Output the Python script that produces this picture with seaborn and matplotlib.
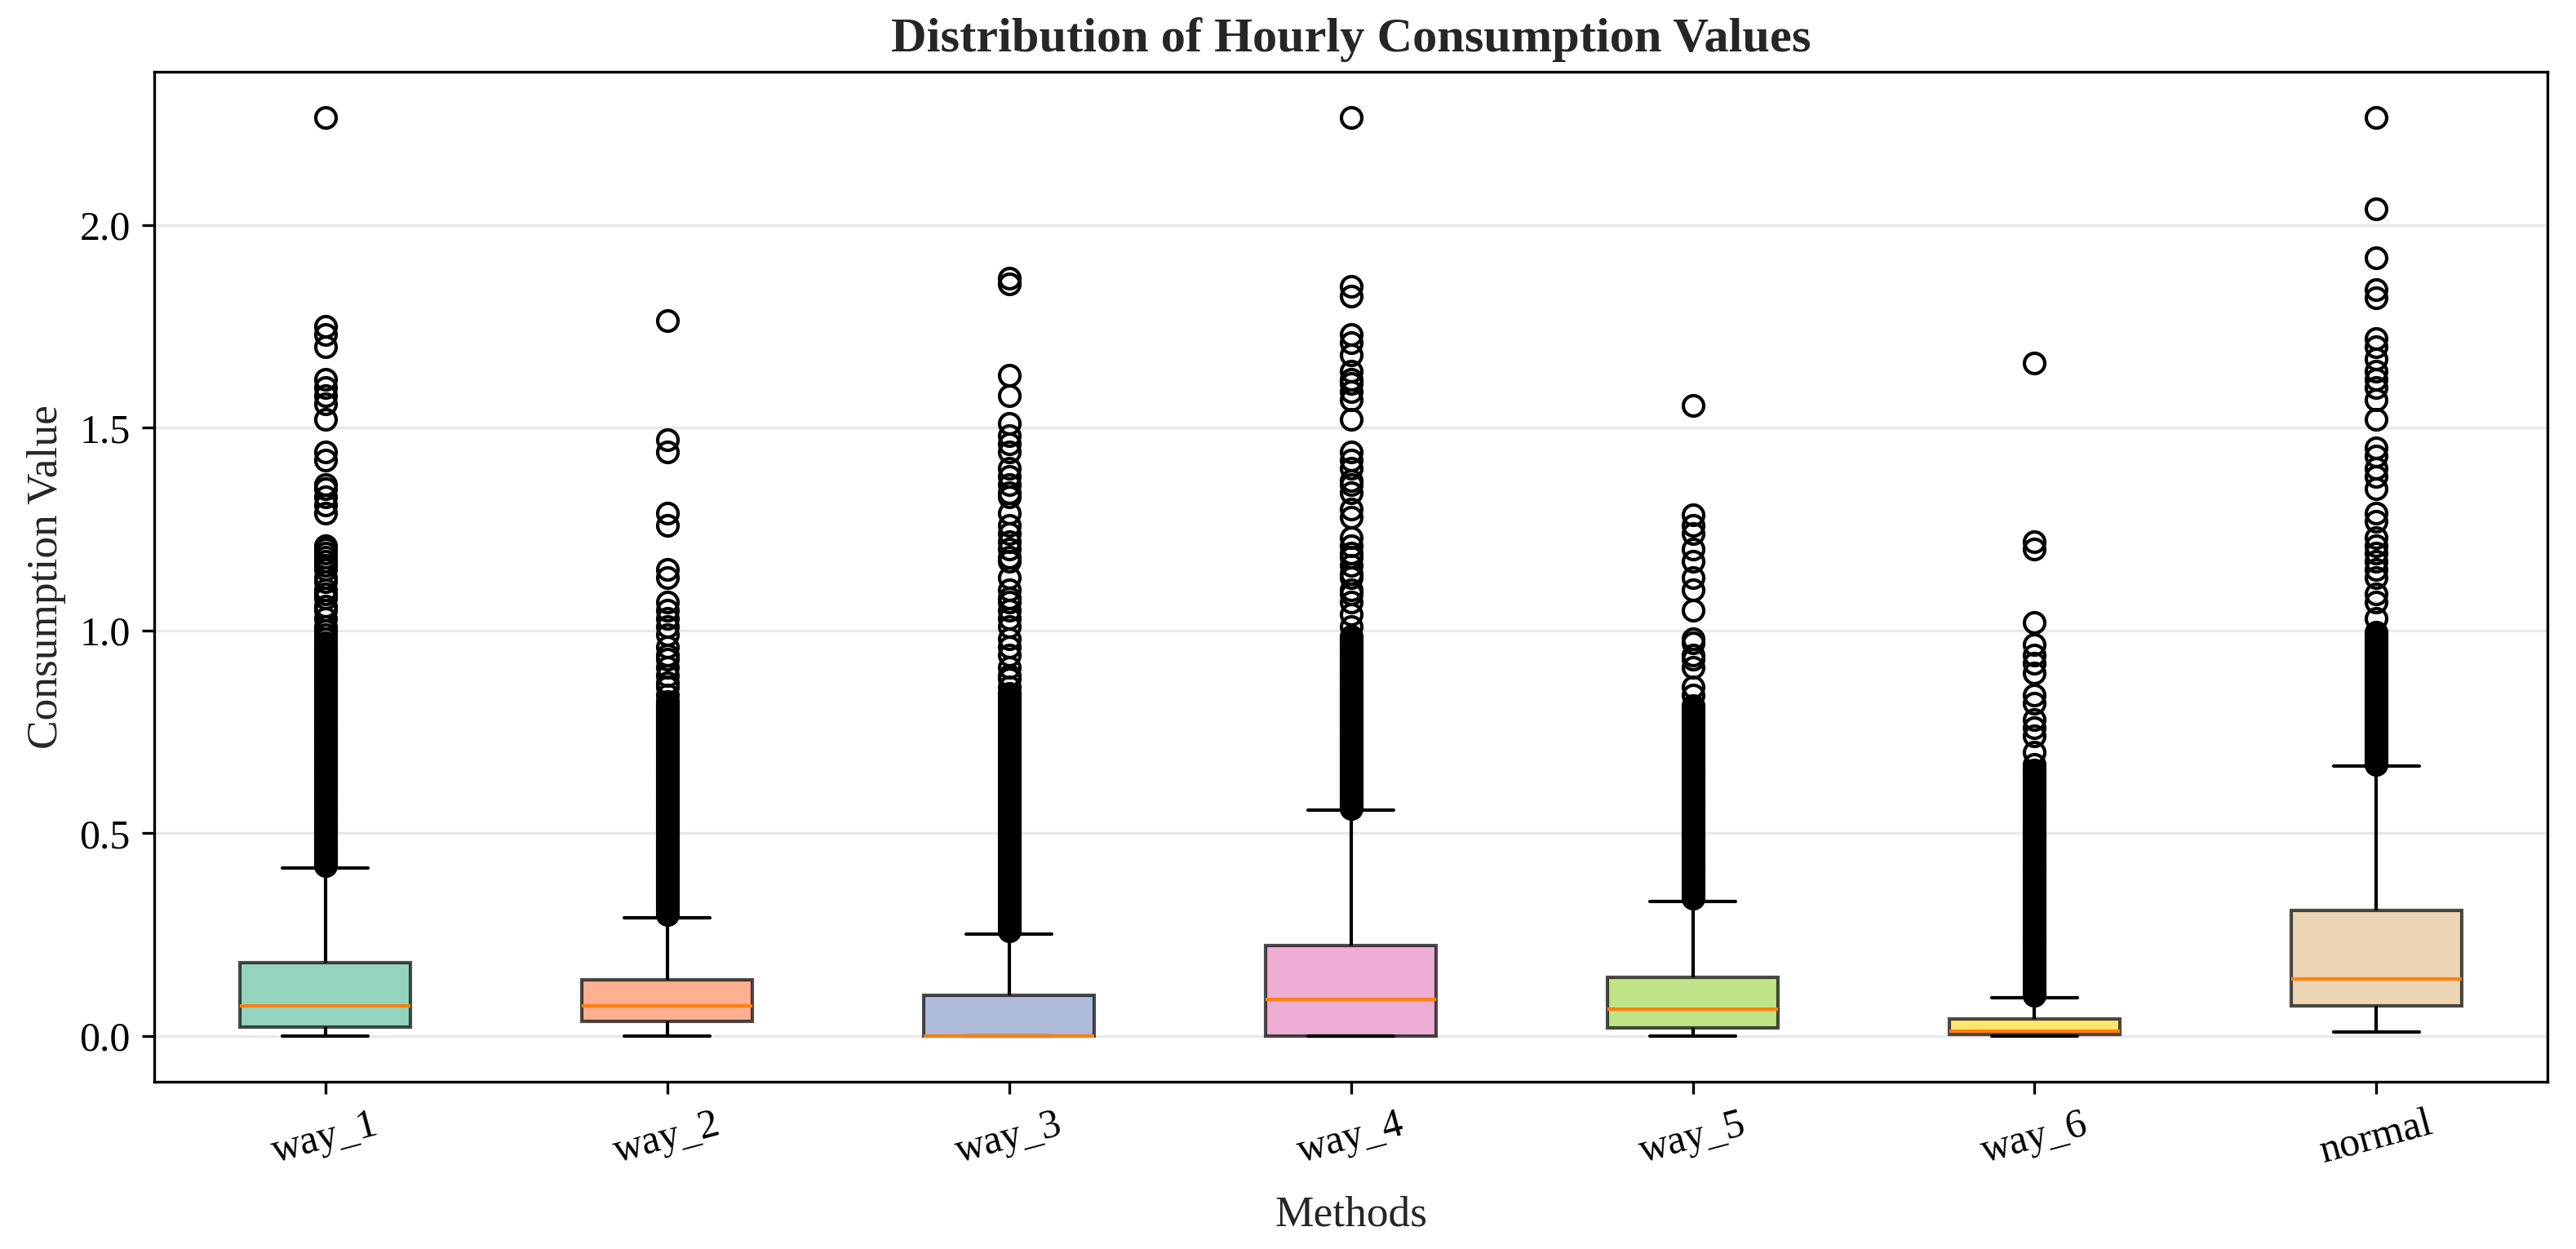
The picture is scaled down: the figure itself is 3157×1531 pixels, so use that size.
import pandas as pd
import seaborn as sns
import matplotlib.pyplot as plt

methods = ['way_1', 'way_2', 'way_3', 'way_4', 'way_5', 'way_6', 'normal']

# box statistics
whis_low = [0.0, 0.0, 0.0, 0.0, 0.0, 0.0, 0.010]
q1 = [0.021, 0.036, 0.0, 0.0, 0.019, 0.003, 0.073]
median = [0.073, 0.073, 0.0, 0.091, 0.065, 0.012, 0.140]
q3 = [0.180, 0.139, 0.101, 0.223, 0.144, 0.041, 0.310]
whis_high = [0.415, 0.292, 0.252, 0.556, 0.331, 0.095, 0.665]

# outliers: solid black bands just above the whiskers (read every 0.005),
# then the separate circles above them
way_1_band = [0.42, 0.425, 0.43, 0.435, 0.44, 0.445, 0.45, 0.455, 0.46, 0.465,
              0.47, 0.475, 0.48, 0.485, 0.49, 0.495, 0.50, 0.505, 0.51, 0.515,
              0.52, 0.525, 0.53, 0.535, 0.54, 0.545, 0.55, 0.555, 0.56, 0.565,
              0.57, 0.575, 0.58, 0.585, 0.59, 0.595, 0.60, 0.605, 0.61, 0.615,
              0.62, 0.625, 0.63, 0.635, 0.64, 0.645, 0.65, 0.655, 0.66, 0.665,
              0.67, 0.675, 0.68, 0.685, 0.69, 0.695, 0.70, 0.705, 0.71, 0.715,
              0.72, 0.725, 0.73, 0.735, 0.74, 0.745, 0.75, 0.755, 0.76, 0.765,
              0.77, 0.775, 0.78, 0.785, 0.79, 0.795, 0.80, 0.805, 0.81, 0.815,
              0.82, 0.825, 0.83, 0.835, 0.84, 0.845, 0.85, 0.855, 0.86, 0.865,
              0.87, 0.875, 0.88, 0.885, 0.89, 0.895, 0.90, 0.905, 0.91, 0.915,
              0.92, 0.925, 0.93, 0.935, 0.94, 0.945, 0.95, 0.955, 0.96, 0.965]
way_1_sparse = [0.97, 0.98, 0.99, 1.00, 1.01, 1.03, 1.05, 1.06, 1.08, 1.09, 1.10, 1.12, 1.13,
                1.15, 1.16, 1.17, 1.18, 1.19, 1.20, 1.21,
                1.29, 1.31, 1.33, 1.35, 1.36, 1.42, 1.44, 1.52, 1.56, 1.58, 1.60, 1.62,
                1.70, 1.73, 1.75, 2.265]

way_2_band = [0.30, 0.305, 0.31, 0.315, 0.32, 0.325, 0.33, 0.335, 0.34, 0.345,
              0.35, 0.355, 0.36, 0.365, 0.37, 0.375, 0.38, 0.385, 0.39, 0.395,
              0.40, 0.405, 0.41, 0.415, 0.42, 0.425, 0.43, 0.435, 0.44, 0.445,
              0.45, 0.455, 0.46, 0.465, 0.47, 0.475, 0.48, 0.485, 0.49, 0.495,
              0.50, 0.505, 0.51, 0.515, 0.52, 0.525, 0.53, 0.535, 0.54, 0.545,
              0.55, 0.555, 0.56, 0.565, 0.57, 0.575, 0.58, 0.585, 0.59, 0.595,
              0.60, 0.605, 0.61, 0.615, 0.62, 0.625, 0.63, 0.635, 0.64, 0.645,
              0.65, 0.655, 0.66, 0.665, 0.67, 0.675, 0.68, 0.685, 0.69, 0.695,
              0.70, 0.705, 0.71, 0.715, 0.72, 0.725, 0.73, 0.735, 0.74, 0.745,
              0.75, 0.755, 0.76, 0.765, 0.77, 0.775, 0.78, 0.785, 0.79, 0.795,
              0.80, 0.805, 0.81, 0.815, 0.82, 0.825]
way_2_sparse = [0.84, 0.86, 0.87, 0.89, 0.91, 0.93, 0.94, 0.96, 0.99, 1.01, 1.03, 1.05, 1.07,
                1.13, 1.15, 1.26, 1.29, 1.44, 1.47, 1.765]

way_3_band = [0.26, 0.265, 0.27, 0.275, 0.28, 0.285, 0.29, 0.295,
              0.30, 0.305, 0.31, 0.315, 0.32, 0.325, 0.33, 0.335, 0.34, 0.345,
              0.35, 0.355, 0.36, 0.365, 0.37, 0.375, 0.38, 0.385, 0.39, 0.395,
              0.40, 0.405, 0.41, 0.415, 0.42, 0.425, 0.43, 0.435, 0.44, 0.445,
              0.45, 0.455, 0.46, 0.465, 0.47, 0.475, 0.48, 0.485, 0.49, 0.495,
              0.50, 0.505, 0.51, 0.515, 0.52, 0.525, 0.53, 0.535, 0.54, 0.545,
              0.55, 0.555, 0.56, 0.565, 0.57, 0.575, 0.58, 0.585, 0.59, 0.595,
              0.60, 0.605, 0.61, 0.615, 0.62, 0.625, 0.63, 0.635, 0.64, 0.645,
              0.65, 0.655, 0.66, 0.665, 0.67, 0.675, 0.68, 0.685, 0.69, 0.695,
              0.70, 0.705, 0.71, 0.715, 0.72, 0.725, 0.73, 0.735, 0.74, 0.745,
              0.75, 0.755, 0.76, 0.765, 0.77, 0.775, 0.78, 0.785, 0.79, 0.795,
              0.80, 0.805, 0.81, 0.815, 0.82, 0.825, 0.83, 0.835, 0.84, 0.845]
way_3_sparse = [0.86, 0.88, 0.89, 0.91, 0.94, 0.96, 0.98, 1.01, 1.03, 1.05, 1.07, 1.08, 1.10,
                1.13, 1.17, 1.18, 1.20, 1.22, 1.24, 1.26, 1.29,
                1.33, 1.34, 1.36, 1.38, 1.40, 1.44, 1.46, 1.48, 1.51, 1.58, 1.63, 1.855, 1.87]

way_4_band = [0.56, 0.565, 0.57, 0.575, 0.58, 0.585, 0.59, 0.595,
              0.60, 0.605, 0.61, 0.615, 0.62, 0.625, 0.63, 0.635, 0.64, 0.645,
              0.65, 0.655, 0.66, 0.665, 0.67, 0.675, 0.68, 0.685, 0.69, 0.695,
              0.70, 0.705, 0.71, 0.715, 0.72, 0.725, 0.73, 0.735, 0.74, 0.745,
              0.75, 0.755, 0.76, 0.765, 0.77, 0.775, 0.78, 0.785, 0.79, 0.795,
              0.80, 0.805, 0.81, 0.815, 0.82, 0.825, 0.83, 0.835, 0.84, 0.845,
              0.85, 0.855, 0.86, 0.865, 0.87, 0.875, 0.88, 0.885, 0.89, 0.895,
              0.90, 0.905, 0.91, 0.915, 0.92, 0.925, 0.93, 0.935, 0.94, 0.945,
              0.95, 0.955, 0.96, 0.965, 0.97, 0.975, 0.98, 0.985]
way_4_sparse = [1.01, 1.04, 1.07, 1.09, 1.10, 1.13, 1.14, 1.16, 1.18, 1.19, 1.21, 1.23,
                1.28, 1.30, 1.34, 1.36, 1.37, 1.40, 1.42, 1.44, 1.52, 1.57, 1.59, 1.61,
                1.62, 1.64, 1.68, 1.71, 1.73, 1.825, 1.85, 2.265]

way_5_band = [0.34, 0.345, 0.35, 0.355, 0.36, 0.365, 0.37, 0.375, 0.38, 0.385, 0.39, 0.395,
              0.40, 0.405, 0.41, 0.415, 0.42, 0.425, 0.43, 0.435, 0.44, 0.445,
              0.45, 0.455, 0.46, 0.465, 0.47, 0.475, 0.48, 0.485, 0.49, 0.495,
              0.50, 0.505, 0.51, 0.515, 0.52, 0.525, 0.53, 0.535, 0.54, 0.545,
              0.55, 0.555, 0.56, 0.565, 0.57, 0.575, 0.58, 0.585, 0.59, 0.595,
              0.60, 0.605, 0.61, 0.615, 0.62, 0.625, 0.63, 0.635, 0.64, 0.645,
              0.65, 0.655, 0.66, 0.665, 0.67, 0.675, 0.68, 0.685, 0.69, 0.695,
              0.70, 0.705, 0.71, 0.715, 0.72, 0.725, 0.73, 0.735, 0.74, 0.745,
              0.75, 0.755, 0.76, 0.765, 0.77, 0.775, 0.78, 0.785, 0.79, 0.795,
              0.80, 0.805, 0.81, 0.815]
way_5_sparse = [0.84, 0.86, 0.91, 0.93, 0.94, 0.97, 0.98,
                1.05, 1.10, 1.13, 1.17, 1.20, 1.24, 1.26, 1.285, 1.555]

way_6_band = [0.10, 0.105, 0.11, 0.115, 0.12, 0.125, 0.13, 0.135, 0.14, 0.145,
              0.15, 0.155, 0.16, 0.165, 0.17, 0.175, 0.18, 0.185, 0.19, 0.195,
              0.20, 0.205, 0.21, 0.215, 0.22, 0.225, 0.23, 0.235, 0.24, 0.245,
              0.25, 0.255, 0.26, 0.265, 0.27, 0.275, 0.28, 0.285, 0.29, 0.295,
              0.30, 0.305, 0.31, 0.315, 0.32, 0.325, 0.33, 0.335, 0.34, 0.345,
              0.35, 0.355, 0.36, 0.365, 0.37, 0.375, 0.38, 0.385, 0.39, 0.395,
              0.40, 0.405, 0.41, 0.415, 0.42, 0.425, 0.43, 0.435, 0.44, 0.445,
              0.45, 0.455, 0.46, 0.465, 0.47, 0.475, 0.48, 0.485, 0.49, 0.495,
              0.50, 0.505, 0.51, 0.515, 0.52, 0.525, 0.53, 0.535, 0.54, 0.545,
              0.55, 0.555, 0.56, 0.565, 0.57, 0.575, 0.58, 0.585, 0.59, 0.595,
              0.60, 0.605, 0.61, 0.615, 0.62, 0.625, 0.63, 0.635, 0.64, 0.645,
              0.65, 0.655]
way_6_sparse = [0.67, 0.70, 0.74, 0.76, 0.78, 0.82, 0.84,
                0.895, 0.92, 0.94, 0.965, 1.02, 1.20, 1.22, 1.66]

normal_band = [0.67, 0.675, 0.68, 0.685, 0.69, 0.695,
               0.70, 0.705, 0.71, 0.715, 0.72, 0.725, 0.73, 0.735, 0.74, 0.745,
               0.75, 0.755, 0.76, 0.765, 0.77, 0.775, 0.78, 0.785, 0.79, 0.795,
               0.80, 0.805, 0.81, 0.815, 0.82, 0.825, 0.83, 0.835, 0.84, 0.845,
               0.85, 0.855, 0.86, 0.865, 0.87, 0.875, 0.88, 0.885, 0.89, 0.895,
               0.90, 0.905, 0.91, 0.915, 0.92, 0.925, 0.93, 0.935, 0.94, 0.945,
               0.95, 0.955, 0.96, 0.965, 0.97, 0.975, 0.98, 0.985, 0.99, 0.995]
normal_sparse = [1.03, 1.07, 1.09, 1.13, 1.15, 1.17, 1.19, 1.21, 1.23,
                 1.27, 1.29, 1.35, 1.38, 1.40, 1.43, 1.45, 1.52, 1.57, 1.60, 1.62, 1.64,
                 1.67, 1.70, 1.72, 1.82, 1.84, 1.92, 2.04, 2.265]

outliers = [way_1_band + way_1_sparse, way_2_band + way_2_sparse, way_3_band + way_3_sparse,
            way_4_band + way_4_sparse, way_5_band + way_5_sparse, way_6_band + way_6_sparse,
            normal_band + normal_sparse]

# rebuild a sample per method whose quartiles / whiskers match the read statistics
n_rep = 400
rows = []
for i, m in enumerate(methods):
    vals = [whis_low[i]] + [q1[i]] * n_rep + [median[i]] * n_rep + [q3[i]] * n_rep \
        + [whis_high[i]] + outliers[i]
    rows += [(m, v) for v in vals]
df = pd.DataFrame(rows, columns=['Methods', 'Consumption Value'])

sns.set_style('ticks')
plt.rcParams['font.family'] = ['Liberation Serif', 'DejaVu Serif']

fig, ax = plt.subplots(figsize=(3157 / 300, 1531 / 300), dpi=300)
fig.subplots_adjust(left=0.0599, right=0.9889, top=0.9425, bottom=0.1339)

sns.boxplot(data=df, x='Methods', y='Consumption Value', hue='Methods', order=methods,
            hue_order=methods, palette='Set2', saturation=1, legend=False, width=0.5,
            linewidth=1, linecolor='black', fliersize=6, ax=ax,
            boxprops=dict(alpha=0.7),
            medianprops=dict(color='#ff7f0e', linewidth=1),
            whiskerprops=dict(color='black', linewidth=1),
            capprops=dict(color='black', linewidth=1),
            flierprops=dict(marker='o', markersize=6, markerfacecolor='none',
                            markeredgecolor='black', markeredgewidth=1))

ax.set_axisbelow(True)
ax.yaxis.grid(True, color='#e8e8e8', linewidth=0.8)
for s in ax.spines.values():
    s.set_visible(True)
    s.set_color('black')
    s.set_linewidth(0.8)
ax.tick_params(axis='both', labelsize=12, colors='black')
plt.xticks(rotation=15)
ax.set_title('Distribution of Hourly Consumption Values', fontsize=14.5, fontweight='bold')
ax.set_xlabel('Methods', fontsize=12.8, labelpad=7)
ax.set_ylabel('Consumption Value', fontsize=12.8)

plt.savefig('out.png', dpi=300)
